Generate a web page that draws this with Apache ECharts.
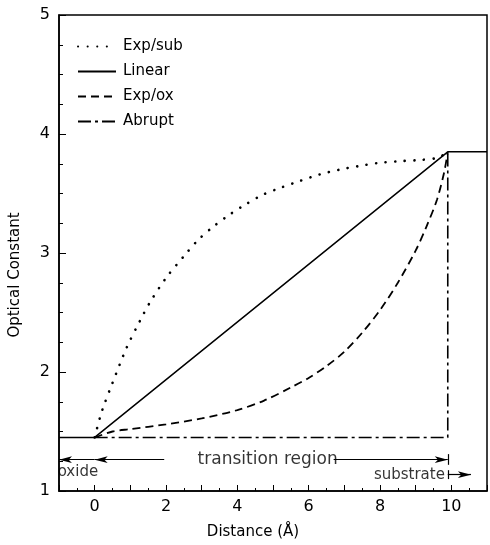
<!DOCTYPE html>
<html>
<head>
<meta charset="utf-8">
<script src="https://cdn.jsdelivr.net/npm/echarts@6/dist/echarts.min.js"></script>
<style>
  html, body { margin: 0; padding: 0; background: #fff; }
  #chart { width: 490px; height: 545px; }
</style>
</head>
<body>
<div id="chart"></div>
<script>
// Refractive-index profile across the oxide / substrate transition region
const seriesNames = ['Exp/sub', 'Linear', 'Exp/ox', 'Abrupt'];

// [distance (Å), optical constant]
const expSub = [[0,1.45],[0.16,1.63],[0.26,1.72],[0.47,1.885],[0.89,2.20],[1.27,2.43],[1.54,2.58],
  [2.0,2.79],[2.52,2.98],[2.9,3.11],[3.32,3.22],[3.77,3.32],[4.24,3.41],[4.72,3.49],[5.23,3.55],
  [5.75,3.605],[6.31,3.66],[6.86,3.70],[7.40,3.73],[7.94,3.756],[8.47,3.77],[9.03,3.78],[9.62,3.80],[9.9,3.85]];
const linear = [[-1,1.45],[0,1.45],[9.9,3.85],[11,3.85]];
const expOx = [[0,1.45],[0.5,1.50],[1,1.52],[2,1.56],[3,1.61],[4,1.68],[4.75,1.76],[5.5,1.87],[6,1.95],
  [6.5,2.05],[7,2.17],[7.5,2.33],[8,2.52],[8.5,2.75],[9,3.02],[9.3,3.22],[9.6,3.45],[9.8,3.68],[9.9,3.85]];
const abrupt = [[0,1.45],[9.9,1.45],[9.9,3.85]];

const xTickLabels = ['0','2','4','6','8','10'];
const yTickLabels = ['1','2','3','4','5'];
const regionLabels = ['oxide', 'transition region', 'substrate'];

const FONT = 'DejaVu Sans';
const INK = '#000';

const chart = echarts.init(document.getElementById('chart'), null, { renderer: 'canvas' });

function seg(a, b, endSymbol) {
  return [
    { coord: a, symbol: 'none' },
    { coord: b, symbol: endSymbol || 'none' }
  ];
}

const rowY = 1.263;   // arrow row for oxide / transition region
const subY = 1.137;   // arrow row for substrate

const option = {
  animation: false,
  backgroundColor: '#fff',
  grid: { left: 59, right: 0, top: 15, bottom: 53, show: true, borderColor: INK, borderWidth: 1.5 },
  legend: {
    orient: 'vertical', left: 72, top: 34,
    itemWidth: 38, itemHeight: 12, itemGap: 10,
    data: seriesNames,
    itemStyle: { opacity: 0 },
    textStyle: { fontFamily: FONT, fontSize: 15, color: INK, padding: [0, 0, 0, 2] },
    inactiveColor: INK
  },
  xAxis: {
    type: 'value', min: -1, max: 11, interval: 1,
    name: 'Distance (Å)', nameLocation: 'middle', nameGap: 34,
    nameTextStyle: { fontFamily: FONT, fontSize: 15, color: INK, padding: [0, 40, 0, 0] },
    axisLine: { show: true, onZero: false, lineStyle: { color: INK, width: 1.5 } },
    axisTick: { show: true, inside: true, length: 6, lineStyle: { color: INK } },
    minorTick: { show: true, splitNumber: 2, length: 3, lineStyle: { color: INK } },
    splitLine: { show: false },
    axisLabel: {
      fontFamily: FONT, fontSize: 16, color: INK, margin: 8,
      formatter: v => (xTickLabels.indexOf(String(v)) >= 0 ? String(v) : '')
    }
  },
  yAxis: {
    type: 'value', min: 1, max: 5, interval: 1,
    name: 'Optical Constant', nameLocation: 'middle', nameGap: 36,
    nameTextStyle: { fontFamily: FONT, fontSize: 15, color: INK, padding: [0, 44, 0, 0] },
    axisLine: { show: true, onZero: false, lineStyle: { color: INK, width: 1.5 } },
    axisTick: { show: true, inside: true, length: 7, lineStyle: { color: INK } },
    minorTick: { show: true, splitNumber: 4, length: 4, lineStyle: { color: INK } },
    splitLine: { show: false },
    axisLabel: {
      fontFamily: FONT, fontSize: 16, color: INK, margin: 9,
      formatter: v => (yTickLabels.indexOf(String(v)) >= 0 ? String(v) : '')
    }
  },
  series: [
    {
      name: seriesNames[0], type: 'line', data: expSub, symbol: 'none', smooth: 0.3,
      lineStyle: { color: INK, width: 2.6, type: [0.1, 9.5], cap: 'round' },
      itemStyle: { color: INK }, z: 3
    },
    {
      name: seriesNames[1], type: 'line', data: linear, symbol: 'none',
      lineStyle: { color: INK, width: 1.5, type: 'solid' },
      itemStyle: { color: INK }, z: 4
    },
    {
      name: seriesNames[2], type: 'line', data: expOx, symbol: 'none', smooth: 0.3,
      lineStyle: { color: INK, width: 1.8, type: [8, 5] },
      itemStyle: { color: INK }, z: 3
    },
    {
      name: seriesNames[3], type: 'line', data: abrupt, symbol: 'none',
      lineStyle: { color: INK, width: 1.6, type: [13, 4, 3, 4] },
      itemStyle: { color: INK }, z: 3
    },
    {
      // region arrows and end bars
      name: 'regions', type: 'line', data: [], silent: true,
      markLine: {
        silent: true, animation: false,
        symbolSize: [5, 13],
        label: { show: false },
        lineStyle: { color: INK, width: 1.2, type: 'solid' },
        data: [
          seg([0, rowY], [-1, rowY], 'arrow'),
          seg([1.95, rowY], [0, rowY], 'arrow'),
          seg([6.7, rowY], [9.9, rowY], 'arrow'),
          seg([9.9, 1.22], [9.9, 1.31]),
          seg([9.9, 1.10], [9.9, 1.175]),
          seg([9.9, subY], [10.55, subY], 'arrow')
        ]
      }
    },
    {
      // region captions
      name: 'captions', type: 'scatter', symbolSize: 0, silent: true,
      label: { show: true, fontFamily: FONT, fontSize: 16, color: INK, formatter: p => p.data.text },
      itemStyle: { color: INK },
      data: [
        { value: [-0.47, 1.16], text: regionLabels[0], label: { position: 'inside', fontSize: 15, color: INK } },
        { value: [4.85, rowY], text: regionLabels[1], label: { position: 'inside', fontSize: 17, color: INK } },
        { value: [9.82, subY], text: regionLabels[2], label: { position: 'left', distance: 0, fontSize: 15, color: INK } }
      ]
    }
  ]
};

chart.setOption(option);
</script>
</body>
</html>
